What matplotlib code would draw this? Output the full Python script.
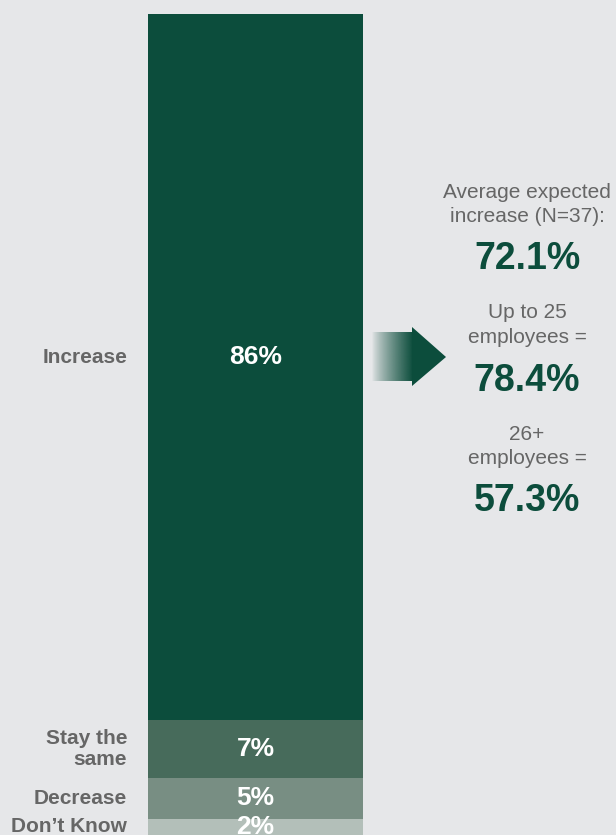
import numpy as np
import matplotlib.pyplot as plt
from matplotlib.colors import to_rgb
from matplotlib.patches import Polygon

plt.rcParams["font.family"] = ["Liberation Sans", "DejaVu Sans"]

# Expected change in staffing, share of respondents (%)
categories = ["Increase", "Stay the\nsame", "Decrease", "Don’t Know"]
shares = [86, 7, 5, 2]
seg_colors = ["#0c4d3c", "#476b5b", "#788e83", "#b3bfb9"]

# Average expected increase, overall and by firm size
summary_labels = ["Average expected\nincrease (N=37):", "Up to 25\nemployees =", "26+\nemployees ="]
summary_values = [72.1, 78.4, 57.3]

BG = "#e6e7e9"
GREEN = "#0c4d3c"
GRAY = "#666666"

W, H = 616, 835
fig = plt.figure(figsize=(W / 100, H / 100), dpi=100, facecolor=BG)

# overlay in pixel coordinates for the arrow and side notes
ov = fig.add_axes([0, 0, 1, 1])
ov.set_xlim(0, W)
ov.set_ylim(H, 0)
ov.axis("off")
ov.set_facecolor(BG)

# stacked bar, Increase on top
ax = fig.add_axes([148 / W, 0, 215 / W, 821 / H])
ax.set_xlim(-0.5, 0.5)
ax.set_ylim(0, 100)
ax.axis("off")

bottom = 100
for cat, val, col in zip(categories, shares, seg_colors):
    bottom -= val
    ax.bar(0, val, bottom=bottom, width=1.0, color=col, linewidth=0)
    mid = bottom + val / 2
    dy = 7 if cat == "Increase" else 0
    ax.annotate(f"{val}%", (0, mid), xytext=(0, dy), textcoords="offset points",
                ha="center", va="center", color="white", fontsize=19,
                fontweight="bold", annotation_clip=False)
    ax.annotate(cat, (-0.5, mid), xytext=(-15, dy), textcoords="offset points",
                ha="right", va="center", color=GRAY, fontsize=15,
                fontweight="bold", linespacing=1.1, annotation_clip=False)

# arrow: fading shaft + solid head
grad = np.zeros((1, 200, 4))
grad[..., :3] = to_rgb(GREEN)
grad[..., 3] = np.linspace(0, 1, 200) ** 0.8
ov.imshow(grad, extent=(372, 413, 381, 332), aspect="auto", zorder=2)
ov.add_patch(Polygon([(412, 327), (446, 357), (412, 386)], closed=True,
                     facecolor=GREEN, edgecolor="none", zorder=3))

cx = 527
label_y = [204.5, 325, 446.5]
value_y = [259, 381, 501]
for lab, val, ly, vy in zip(summary_labels, summary_values, label_y, value_y):
    ov.text(cx, ly, lab, ha="center", va="center", color=GRAY,
            fontsize=15, linespacing=1.4)
    ov.text(cx, vy, f"{val:.1f}%", ha="center", va="center", color=GREEN,
            fontsize=27, fontweight="bold")

fig.savefig("out.png", dpi=100, facecolor=BG)
